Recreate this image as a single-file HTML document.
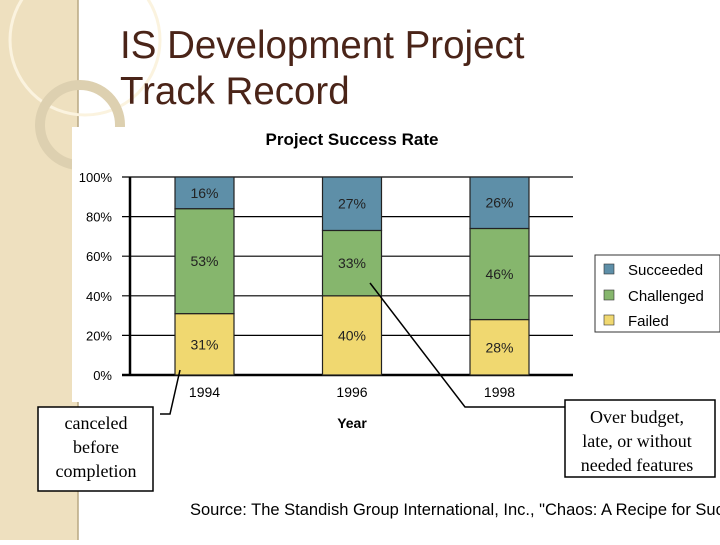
<!DOCTYPE html>
<html><head><meta charset="utf-8"><style>
body{margin:0;width:720px;height:540px;overflow:hidden;background:#fff;font-family:"Liberation Sans",sans-serif;}
</style></head><body>
<svg width="720" height="540" xmlns="http://www.w3.org/2000/svg">
<g>
<rect x="0" y="0" width="78" height="540" fill="#eee0bf"/>
<line x1="78" y1="0" x2="78" y2="540" stroke="#b9a884" stroke-width="1.5"/>
<circle cx="85" cy="40" r="75" fill="none" stroke="#fbf3df" stroke-width="3"/>
<circle cx="80" cy="125" r="40" fill="none" stroke="#ddd0b0" stroke-width="10"/>
</g>
<rect x="72" y="127" width="640" height="275" fill="#fff"/>
<text x="120" y="58" font-size="38.5" fill="#4a2418">IS Development Project</text>
<text x="120" y="104" font-size="38.5" fill="#4a2418">Track Record</text>
<text x="352" y="145" font-size="17" font-weight="bold" text-anchor="middle">Project Success Rate</text>
<g id="grid"></g><g id="bars"></g>
<text x="352" y="428" font-size="14" font-weight="bold" text-anchor="middle">Year</text>
<g>
<rect x="595" y="255" width="125" height="77" fill="#fff" stroke="#333"/>
<rect x="604" y="264" width="10" height="10" fill="#5e8fa8" stroke="#333" stroke-width="0.6"/>
<text x="628" y="275" font-size="15">Succeeded</text>
<rect x="604" y="290" width="10" height="10" fill="#86b66d" stroke="#333" stroke-width="0.6"/>
<text x="628" y="301" font-size="15">Challenged</text>
<rect x="604" y="315" width="10" height="10" fill="#f0d870" stroke="#333" stroke-width="0.6"/>
<text x="628" y="326" font-size="15">Failed</text>
</g>
<g>
<polyline points="160,414 170,414 180,370" fill="none" stroke="#000" stroke-width="1.5"/>
<rect x="38" y="407" width="115" height="84" fill="#fff" stroke="#000" stroke-width="1.5"/>
<text font-family="Liberation Serif,serif" font-size="18" text-anchor="middle"><tspan x="96" y="429">canceled</tspan><tspan x="96" y="453">before</tspan><tspan x="96" y="477">completion</tspan></text>
</g>
<g>
<polyline points="370,283 465,407 565,407" fill="none" stroke="#000" stroke-width="1.5"/>
<rect x="565" y="400" width="150" height="77" fill="#fff" stroke="#000" stroke-width="1.5"/>
<text font-family="Liberation Serif,serif" font-size="18" text-anchor="middle"><tspan x="637" y="423">Over budget,</tspan><tspan x="637" y="447">late, or without</tspan><tspan x="637" y="471">needed features</tspan></text>
</g>
<text x="190" y="515" font-size="16.5">Source: The Standish Group International, Inc., "Chaos: A Recipe for Success"</text>
</svg>
<script>
const years=["1994","1996","1998"];
const failed=[31,40,28];
const challenged=[53,33,46];
const succeeded=[16,27,26];
const yTicks=[0,20,40,60,80,100];
const NS="http://www.w3.org/2000/svg";
const y=v=>375-v*1.98;
const xc=i=>204.5+i*147.5;
function mk(t,a,p){const e=document.createElementNS(NS,t);for(const k in a)e.setAttribute(k,a[k]);p.appendChild(e);return e;}
const g=document.getElementById('grid'),b=document.getElementById('bars');
yTicks.forEach(v=>{
 const l=mk('line',{x1:122,x2:573,y1:y(v),y2:y(v),stroke:'#000','stroke-width':v===0?2.5:1.2},g);
 
 
 const t=mk('text',{x:112,y:y(v)+5,'font-size':13,'text-anchor':'end'},g);t.textContent=v+'%';
 
 
});
const ax=mk('line',{x1:130,x2:130,y1:y(100),y2:y(0)+1,stroke:'#000','stroke-width':2.5},g);


const series=[[failed,'#f0d870','failed'],[challenged,'#86b66d','challenged'],[succeeded,'#5e8fa8','succeeded']];
years.forEach((yr,i)=>{
 let base=0;
 series.forEach(([arr,col,nm])=>{
  const v=arr[i],top=base+v;
  const r=mk('rect',{x:xc(i)-29.5,width:59,y:y(top),height:y(base)-y(top),fill:col,stroke:'#222','stroke-width':1.2},b);
  
  
  const t=mk('text',{x:xc(i),y:(y(base)+y(top))/2+5,'font-size':14,'text-anchor':'middle',fill:'#222'},b);
  t.textContent=v+'%';
  
  
  base=top;
 });
 const t=mk('text',{x:xc(i),y:397,'font-size':14,'text-anchor':'middle'},b);t.textContent=yr;
 
 
});
</script>
</body></html>
